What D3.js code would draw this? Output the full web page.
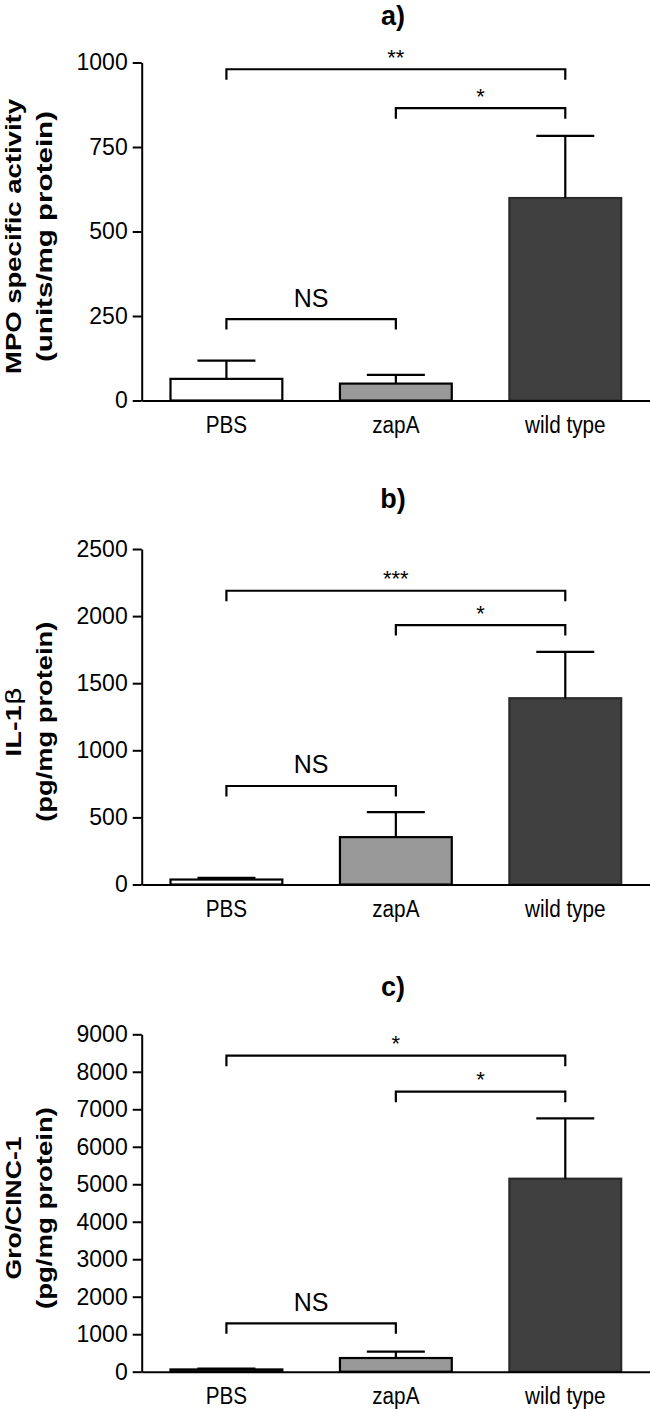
<!DOCTYPE html>
<html><head><meta charset="utf-8">
<script src="https://cdn.jsdelivr.net/npm/d3@7"></script>
<style>body{margin:0;background:#fff}</style>
</head><body>
<svg id="c" width="650" height="1409"></svg>
<script>
const categories = ["PBS", "zapA", "wild type"];
const mpoMean = [64, 50, 599];
const mpoErr = [54, 26, 184];
const mpoTicks = [0, 250, 500, 750, 1000];
const mpoSig = [["PBS", "wild type", "**", 980], ["zapA", "wild type", "*", 865], ["PBS", "zapA", "NS", 241]];
const il1Mean = [37, 353, 1388];
const il1Err = [12, 187, 346];
const il1Ticks = [0, 500, 1000, 1500, 2000, 2500];
const il1Sig = [["PBS", "wild type", "***", 2189], ["zapA", "wild type", "*", 1933], ["PBS", "zapA", "NS", 734]];
const groMean = [60, 365, 5148];
const groErr = [25, 168, 1611];
const groTicks = [0, 1000, 2000, 3000, 4000, 5000, 6000, 7000, 8000, 9000];
const groSig = [["PBS", "wild type", "*", 8429], ["zapA", "wild type", "*", 7469], ["PBS", "zapA", "NS", 1291]];
const panelTitles = ["a)", "b)", "c)"];
const yTitles = [["MPO specific activity", "(units/mg protein)"], ["IL-1", "(pg/mg protein)"], ["Gro/CINC-1", "(pg/mg protein)"]];
const barFills = ["#ffffff", "#999999", "#404040"];
const barStrokes = ["#000000", "#000000", "#2a2a2a"];

const panels = [
  {mean: mpoMean, err: mpoErr, ticks: mpoTicks, sig: mpoSig, top: 62.5, bottom: 400.5, titleY: 24.5, ytLen: [275, 251]},
  {mean: il1Mean, err: il1Err, ticks: il1Ticks, sig: il1Sig, top: 549, bottom: 884.5, titleY: 507.5, ytLen: [70, 200], beta: true},
  {mean: groMean, err: groErr, ticks: groTicks, sig: groSig, top: 1034.3, bottom: 1371.7, titleY: 996, ytLen: [143, 202]}
];

const FONT = "'Liberation Sans', Arial, Helvetica, sans-serif";
const svg = d3.select("#c");
const axisX0 = 141.7, axisX1 = 650;

const x = d3.scaleBand().domain(categories).range([axisX0, axisX1]).paddingInner(0.34).paddingOuter(0.17);

panels.forEach((p, pi) => {
  const g = svg.append("g");
  const y = d3.scaleLinear().domain([0, d3.max(p.ticks)]).range([p.bottom, p.top]);

  // title
  g.append("text").attr("x", 393).attr("y", p.titleY).attr("text-anchor", "middle")
    .attr("font-family", FONT).attr("font-weight", "bold").attr("font-size", 27).text(panelTitles[pi]);

  // y axis title
  const cy = (p.top + p.bottom) / 2 + 5;
  const baselines = [21, 52];
  yTitles[pi].forEach((t, li) => {
    const tx = g.append("text")
      .attr("transform", `translate(${baselines[li]},${cy}) rotate(-90)`)
      .attr("text-anchor", "middle")
      .attr("font-family", FONT).attr("font-weight", "bold").attr("font-size", 22)
      .attr("textLength", p.ytLen[li]).attr("lengthAdjust", "spacingAndGlyphs");
    tx.append("tspan").text(t);
    if (li === 0 && p.beta) {
      tx.append("tspan").attr("font-weight", "normal").attr("font-family", "'DejaVu Sans', sans-serif").text("\u03B2");
    }
  });

  // y axis
  const ya = g.append("g").attr("transform", `translate(${axisX0},0)`)
    .call(d3.axisLeft(y).tickValues(p.ticks).tickSize(9).tickPadding(5).tickSizeOuter(0).tickFormat(d3.format("d")));
  ya.selectAll("path,line").attr("stroke", "#000").attr("stroke-width", 2);
  ya.selectAll("text").attr("font-family", FONT).attr("font-size", 23).attr("fill", "#000");

  // bars
  g.selectAll("rect.bar").data(categories).join("rect").attr("class", "bar")
    .attr("x", c => x(c)).attr("width", x.bandwidth())
    .attr("y", (c, i) => y(p.mean[i])).attr("height", (c, i) => p.bottom - y(p.mean[i]))
    .attr("fill", (c, i) => barFills[i]).attr("stroke", (c, i) => barStrokes[i]).attr("stroke-width", 2.2);

  // error bars (upper)
  categories.forEach((c, i) => {
    const cx = x(c) + x.bandwidth() / 2;
    const y0 = y(p.mean[i]), y1 = y(p.mean[i] + p.err[i]);
    g.append("line").attr("x1", cx).attr("x2", cx).attr("y1", y0).attr("y2", y1).attr("stroke", "#000").attr("stroke-width", 2.2);
    g.append("line").attr("x1", cx - 29).attr("x2", cx + 29).attr("y1", y1).attr("y2", y1).attr("stroke", "#000").attr("stroke-width", 2.2);
  });

  // x axis
  const xa = g.append("g").attr("transform", `translate(0,${p.bottom})`)
    .call(d3.axisBottom(x).tickSize(0).tickSizeOuter(0));
  xa.select("path").attr("stroke", "#000").attr("stroke-width", 2);
  xa.selectAll("text").attr("font-family", FONT).attr("font-size", 23).attr("fill", "#000")
    .attr("y", 32).attr("dy", 0)
    .each(function () { const L = this.getComputedTextLength(); d3.select(this).attr("textLength", L * 0.9).attr("lengthAdjust", "spacingAndGlyphs"); });

  // significance brackets
  p.sig.forEach(([a, b, lab, v]) => {
    const x1 = x(a) + x.bandwidth() / 2, x2 = x(b) + x.bandwidth() / 2;
    const yy = y(v);
    g.append("path").attr("d", `M${x1},${yy + 10.5}V${yy}H${x2}V${yy + 10.5}`)
      .attr("fill", "none").attr("stroke", "#000").attr("stroke-width", 2.2);
    const isNS = lab === "NS";
    g.append("text").attr("x", (x1 + x2) / 2).attr("y", isNS ? yy - 12.5 : yy - 4.5)
      .attr("text-anchor", "middle").attr("font-family", FONT).attr("font-size", isNS ? 25 : 22)
      .text(lab);
  });
});
</script>
</body></html>
